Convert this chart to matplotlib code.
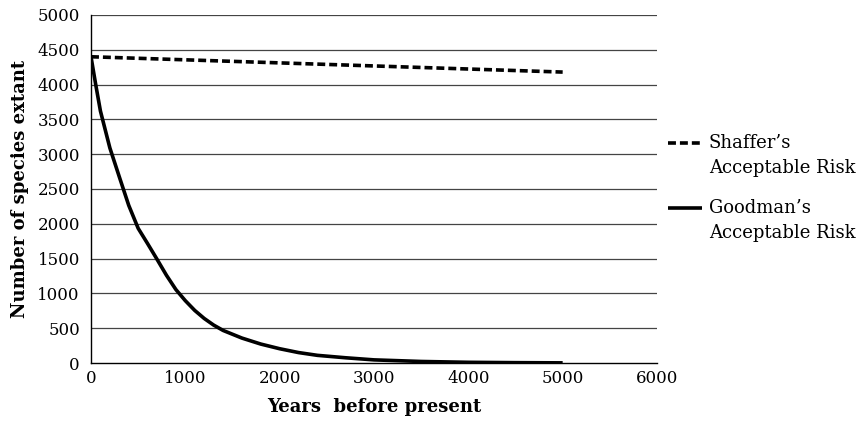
import matplotlib
matplotlib.use("Agg")
import matplotlib.pyplot as plt
from matplotlib.lines import Line2D

years_shaffer = [0, 5000]
shaffer = [4400, 4180]

years_goodman = [0, 50, 100, 200, 300, 400, 500, 600, 700, 800, 900, 1000, 1100, 1200,
                 1300, 1400, 1600, 1800, 2000, 2200, 2400, 2700, 3000, 3500, 4000, 4500, 5000]
goodman = [4400, 4000, 3620, 3090, 2675, 2265, 1935, 1715, 1490, 1260, 1055, 895, 755, 640,
           545, 468, 358, 272, 205, 150, 110, 75, 45, 22, 10, 5, 2]

yticks = [0, 500, 1000, 1500, 2000, 2500, 3000, 3500, 4000, 4500, 5000]
xticks = [0, 1000, 2000, 3000, 4000, 5000, 6000]
labels = ["Shaffer\u2019s", "Acceptable Risk", "Goodman\u2019s", "Acceptable Risk"]

plt.rcParams['font.family'] = ['DejaVu Serif']

W, H = 865, 425
fig = plt.figure(figsize=(W / 100, H / 100), dpi=100)
ax = fig.add_axes([91 / W, 1 - 363 / H, 566 / W, 348 / H])

for y in yticks[1:]:
    ax.axhline(y, color='#444444', lw=0.9, zorder=1)

dash = (0, (2.2, 1.1))
ax.plot(years_shaffer, shaffer, color='black', lw=2.6, ls=dash, zorder=3,
        dash_capstyle='butt')
ax.plot(years_goodman, goodman, color='black', lw=2.6, zorder=3,
        solid_capstyle='butt', solid_joinstyle='round')

ax.set_xlim(0, 6000)
ax.set_ylim(0, 5000)
ax.set_xticks(xticks)
ax.set_yticks(yticks)
ax.tick_params(axis='y', length=0, labelsize=12, pad=8)
ax.tick_params(axis='x', length=0, labelsize=12, pad=5)
for s in ['top', 'right']:
    ax.spines[s].set_visible(False)
for s in ['left', 'bottom']:
    ax.spines[s].set_color('black')
    ax.spines[s].set_linewidth(1.0)

ax.set_xlabel("Years  before present", fontsize=13, fontweight='bold', labelpad=8)
ax.set_ylabel("Number of species extant", fontsize=13, fontweight='bold', labelpad=6)

# legend drawn manually to put the handle beside the first line of each label
def fx(px):
    return px / W

def fy(py):
    return 1 - py / H

for (ly, ls, l1, l2) in [(143, dash, labels[0], labels[1]),
                         (208, '-', labels[2], labels[3])]:
    fig.add_artist(Line2D([fx(668), fx(702)], [fy(ly), fy(ly)], color='black',
                          lw=2.6, ls=ls, transform=fig.transFigure,
                          solid_capstyle='butt', dash_capstyle='butt'))
    fig.text(fx(709), fy(ly), l1, fontsize=13, va='center', ha='left')
    fig.text(fx(709), fy(ly + 25), l2, fontsize=13, va='center', ha='left')

fig.savefig("out.png", dpi=100)
